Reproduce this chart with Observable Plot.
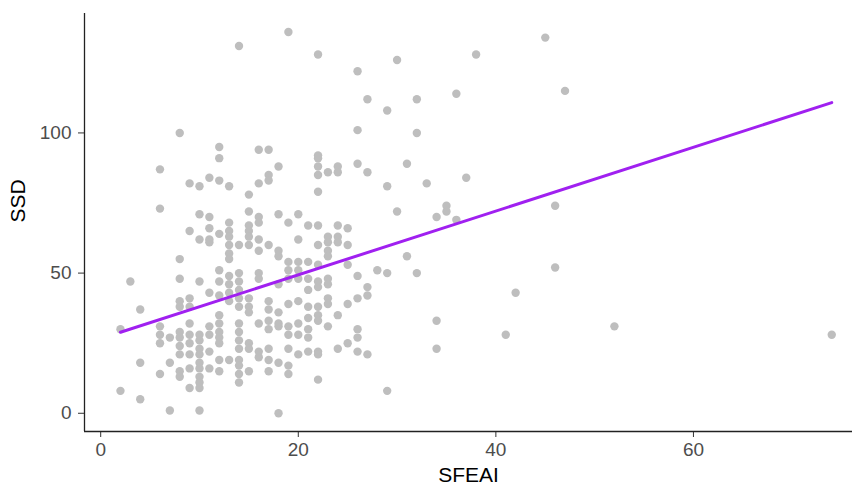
<!DOCTYPE html>
<html>
<head>
<meta charset="utf-8">
<script src="https://cdn.jsdelivr.net/npm/d3@7"></script>
<script src="https://cdn.jsdelivr.net/npm/@observablehq/plot@0.6"></script>
<style>
  html, body { margin: 0; padding: 0; background: #fff; }
</style>
</head>
<body>
<div id="chart"></div>
<script>
// SFEAI values (x) and the SSD values (y) observed at each SFEAI value
const sfeaiLevels = [2, 3, 4, 6, 7, 8, 9, 10, 11, 12, 13, 14, 15, 16, 17, 18, 19, 20, 21, 22, 23, 24, 25, 26, 27, 28, 29, 30, 31, 32, 33, 34, 35, 36, 37, 38, 41, 42, 45, 46, 47, 52, 74];
const ssdByLevel = [
  [30, 8],
  [47],
  [37, 18, 5],
  [87, 73, 31, 28, 25, 14],
  [27, 18, 1],
  [100, 55, 48, 40, 38, 29, 27, 24, 21, 15, 13],
  [82, 65, 41, 38, 32, 28, 25, 21, 16, 9],
  [81, 71, 62, 47, 28, 26, 23, 21, 18, 16, 13, 11, 9, 1],
  [84, 70, 66, 62, 61, 43, 31, 28, 22, 16],
  [95, 91, 83, 64, 51, 47, 42, 35, 32, 29, 27, 25, 19, 15],
  [81, 68, 65, 63, 60, 57, 55, 49, 46, 43, 40, 19],
  [131, 60, 50, 47, 44, 41, 38, 32, 29, 26, 23, 19, 17, 14, 11],
  [78, 72, 67, 65, 63, 60, 41, 38, 36, 25, 23, 15],
  [94, 82, 70, 68, 62, 58, 50, 48, 32, 22, 20],
  [94, 85, 83, 60, 40, 37, 33, 30, 23, 19, 15],
  [88, 71, 58, 56, 46, 36, 32, 31, 18, 0],
  [136, 68, 54, 51, 48, 39, 31, 28, 23, 17, 14],
  [71, 62, 54, 51, 48, 40, 32, 28, 21],
  [67, 54, 48, 44, 38, 34, 30, 27, 22],
  [128, 92, 91, 88, 85, 79, 67, 60, 53, 47, 45, 38, 35, 33, 22, 21, 12],
  [86, 63, 61, 58, 56, 48, 46, 41, 39, 31],
  [88, 86, 67, 63, 61, 35, 23],
  [66, 60, 53, 39, 25],
  [122, 101, 89, 49, 41, 30, 27, 22],
  [112, 86, 45, 42, 21],
  [51],
  [108, 81, 50, 8],
  [126, 72],
  [89, 56],
  [112, 100, 50],
  [82],
  [70, 33, 23],
  [74, 72],
  [114, 69],
  [84],
  [128],
  [28],
  [43],
  [134],
  [74, 52],
  [115],
  [31],
  [28]
];
// Fitted linear trend: SSD at the smallest and largest SFEAI
const fitSSD = [28.9, 110.8];

const xTicks = [0, 20, 40, 60];
const yTicks = [0, 50, 100];
const xDomain = [-1.64, 76.1];
const yDomain = [-6.5, 142.6];

const data = sfeaiLevels.flatMap((x, i) => ssdByLevel[i].map(y => ({SFEAI: x, SSD: y})));
const xExtent = d3.extent(sfeaiLevels);
const fit = xExtent.map((x, i) => ({SFEAI: x, SSD: fitSSD[i]}));

const chart = Plot.plot({
  width: 854,
  height: 489,
  marginLeft: 84,
  marginRight: 2,
  marginTop: 13,
  marginBottom: 58,
  style: {fontFamily: "'Liberation Sans', Arial, sans-serif", fontSize: "19px", color: "#4d4d4d", background: "#fff"},
  x: {domain: xDomain},
  y: {domain: yDomain},
  marks: [
    Plot.axisX({ticks: xTicks, tickSize: 6, tickPadding: 5, label: null, stroke: "#333", fill: "#4d4d4d"}),
    Plot.axisY({ticks: yTicks, tickSize: 6, tickPadding: 7, label: null, stroke: "#333", fill: "#4d4d4d"}),
    Plot.ruleX([xDomain[0]], {stroke: "#222", strokeWidth: 1.3}),
    Plot.ruleY([yDomain[0]], {stroke: "#222", strokeWidth: 1.3}),
    Plot.dot(data, {x: "SFEAI", y: "SSD", r: 4.2, fill: "#BEBEBE", stroke: "none"}),
    Plot.line(fit, {x: "SFEAI", y: "SSD", stroke: "#A020F0", strokeWidth: 3}),
    Plot.text(["SFEAI"], {frameAnchor: "bottom", dy: 44, lineAnchor: "middle", fontSize: 21, fill: "#000"}),
    Plot.text(["SSD"], {frameAnchor: "left", dx: -66, rotate: -90, lineAnchor: "middle", fontSize: 21, fill: "#000"})
  ]
});
document.getElementById("chart").appendChild(chart);
</script>
</body>
</html>
